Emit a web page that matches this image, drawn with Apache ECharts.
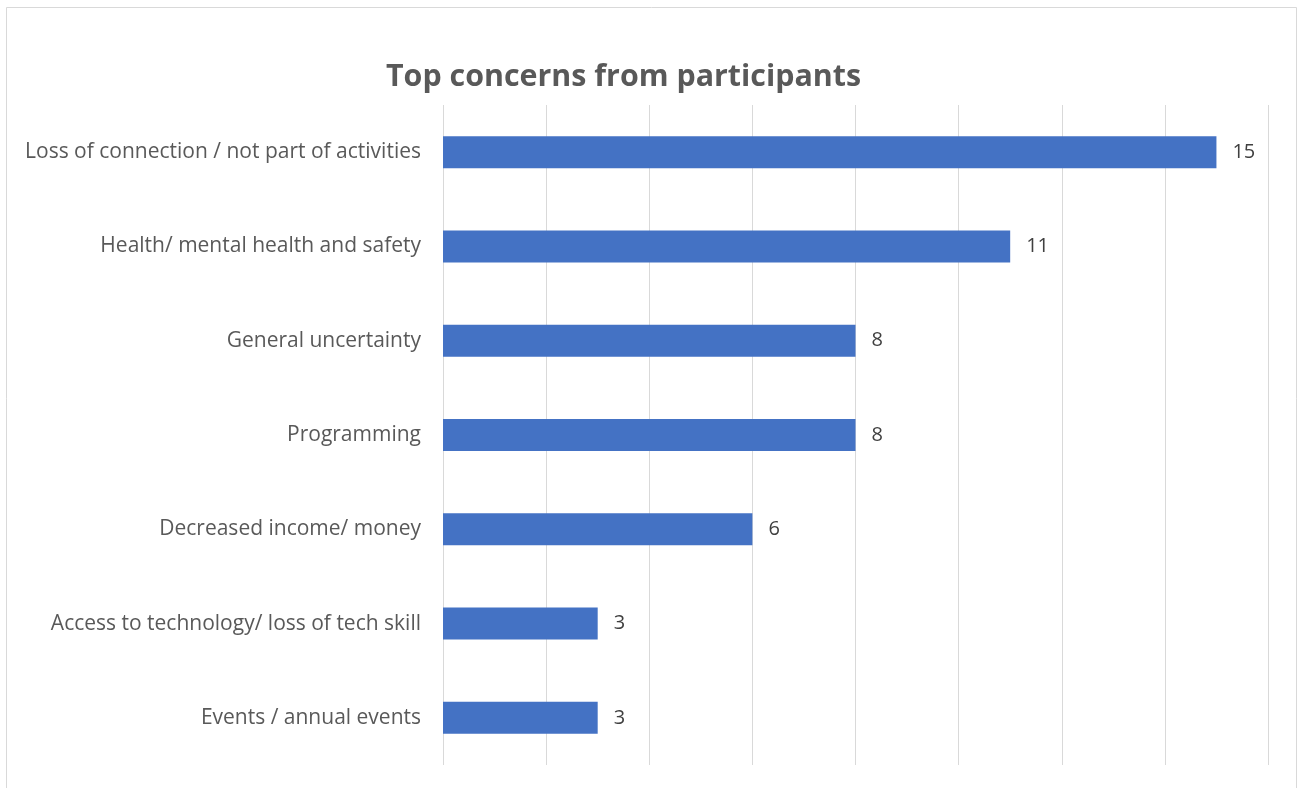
<!DOCTYPE html>
<html>
<head>
<meta charset="utf-8">
<script src="https://cdn.jsdelivr.net/npm/echarts@6/dist/echarts.min.js"></script>
<style>
  html, body { margin: 0; padding: 0; background: #ffffff; }
  #chart { width: 1299px; height: 788px; }
</style>
</head>
<body>
<div id="chart"></div>
<script>
// Concern categories, listed top to bottom as drawn
const categories = [
  'Loss of connection / not part of activities',
  'Health/ mental health and safety',
  'General uncertainty',
  'Programming',
  'Decreased income/ money',
  'Access to technology/ loss of tech skill',
  'Events / annual events'
];
// Number of participants naming each concern
const counts = [15, 11, 8, 8, 6, 3, 3];

const chart = echarts.init(document.getElementById('chart'));
const font = '"Open Sans", sans-serif';

chart.setOption({
  backgroundColor: '#ffffff',
  animation: false,
  title: {
    text: 'Top concerns from participants',
    left: 386,
    top: 62,
    padding: 0,
    textStyle: { fontFamily: font, fontSize: 30.4, fontWeight: 'bold', color: '#595959' }
  },
  graphic: [{
    type: 'rect',
    shape: { x: 6.5, y: 7.5, width: 1290, height: 800 },
    style: { fill: 'none', stroke: '#d9d9d9', lineWidth: 1 },
    silent: true
  }],
  grid: { left: 443, right: 31, top: 105, bottom: 23 },
  xAxis: {
    type: 'value',
    min: 0,
    max: 16,
    interval: 2,
    axisLabel: { show: false },
    axisLine: { show: false },
    axisTick: { show: false },
    splitLine: { show: true, lineStyle: { color: '#d9d9d9', width: 1 } }
  },
  yAxis: {
    type: 'category',
    data: categories,
    inverse: true,
    axisLine: { show: false },
    axisTick: { show: false },
    axisLabel: { fontFamily: font, fontSize: 21, color: '#595959', margin: 22, padding: [4, 0, 0, 0] }
  },
  series: [{
    type: 'bar',
    data: counts,
    barWidth: 32,
    itemStyle: { color: '#4472c4' },
    label: {
      show: true,
      position: 'right',
      distance: 16,
      padding: [4, 0, 0, 0],
      fontFamily: font,
      fontSize: 20,
      color: '#404040'
    }
  }]
});
</script>
</body>
</html>
